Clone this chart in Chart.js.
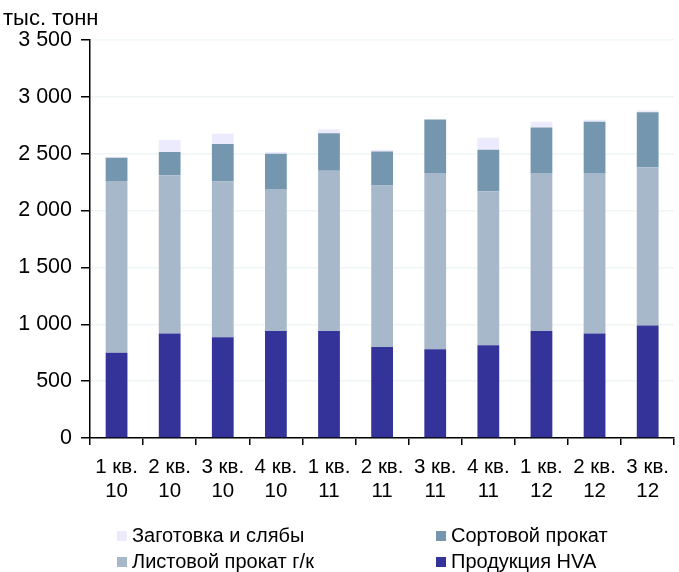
<!DOCTYPE html>
<html>
<head>
<meta charset="utf-8">
<script src="https://cdn.jsdelivr.net/npm/chart.js@4/dist/chart.umd.min.js"></script>
<style>
  html, body { margin: 0; padding: 0; background: #fff; }
  #wrap { position: relative; width: 679px; height: 572px; overflow: hidden; }
  #chart { position: absolute; left: 0; top: 0; }
  .legend { position: absolute; font-family: "Liberation Sans", Arial, sans-serif; font-size: 20px; color: #000; white-space: nowrap; line-height: 22px; }
  .legend .box { display: inline-block; width: 10px; height: 10px; margin-right: 5px; vertical-align: 1px; }
</style>
</head>
<body>
<div id="wrap">
  <canvas id="chart" width="679" height="572"></canvas>
</div>
<script>
// Quarters (two-line labels)
const quarters = [
  ['1 кв.', '10'], ['2 кв.', '10'], ['3 кв.', '10'], ['4 кв.', '10'],
  ['1 кв.', '11'], ['2 кв.', '11'], ['3 кв.', '11'], ['4 кв.', '11'],
  ['1 кв.', '12'], ['2 кв.', '12'], ['3 кв.', '12']
];

// Shipments by product group, thousand tonnes
const hva      = [750, 920, 885, 940, 940, 800, 780, 815, 940, 920, 990];
const sheet    = [1510, 1390, 1370, 1250, 1410, 1420, 1550, 1355, 1390, 1410, 1390];
const longProd = [205, 205, 330, 310, 330, 300, 470, 365, 400, 450, 485];
const billets  = [8, 105, 90, 15, 35, 15, 0, 105, 50, 18, 15];

const yTicks = [0, 500, 1000, 1500, 2000, 2500, 3000, 3500];
const unitLabel = 'тыс. тонн';

const FONT = '"Liberation Sans", Arial, sans-serif';

const datasets = [
  { label: 'Продукция HVA',        data: hva,      backgroundColor: '#333399' },
  { label: 'Листовой прокат г/к',  data: sheet,    backgroundColor: '#A6B8CA' },
  { label: 'Сортовой прокат',      data: longProd, backgroundColor: '#7496AF' },
  { label: 'Заготовка и слябы',    data: billets,  backgroundColor: '#EBEBFD' }
];
datasets.forEach(d => {
  d.barPercentage = 0.41;
  d.categoryPercentage = 1.0;
  d.borderWidth = 0;
});

const fmt = v => String(v).replace(/\B(?=(\d{3})+(?!\d))/g, ' ');

const unitTitle = {
  id: 'unitTitle',
  afterDraw(chart) {
    const c = chart.ctx;
    c.save();
    c.font = '22px ' + FONT;
    c.fillStyle = '#000';
    c.textAlign = 'left';
    c.textBaseline = 'alphabetic';
    c.fillText(unitLabel, 3, 25);
    c.restore();
  }
};

new Chart(document.getElementById('chart'), {
  type: 'bar',
  data: { labels: quarters, datasets },
  options: {
    responsive: false,
    animation: false,
    devicePixelRatio: 1,
    layout: { padding: { top: 40, right: 0, left: 0, bottom: 0 } },
    plugins: {
      legend: { display: false },
      tooltip: { enabled: false },
      title: { display: false }
    },
    scales: {
      x: {
        stacked: true,
        border: { color: '#000', width: 1.5 },
        grid: {
          offset: true,
          drawOnChartArea: false,
          drawTicks: true,
          tickLength: 7,
          color: '#000',
          tickColor: '#000',
          lineWidth: 1.5
        },
        ticks: {
          color: '#000',
          font: { family: FONT, size: 20.5, lineHeight: 1.17 },
          padding: 10,
          maxRotation: 0,
          autoSkip: false
        },
        afterFit(scale) { scale.height = 134; }
      },
      y: {
        stacked: true,
        min: 0,
        max: 3500,
        afterBuildTicks(scale) { scale.ticks = yTicks.map(v => ({ value: v })); },
        border: { color: '#000', width: 1.5 },
        grid: {
          color: '#F0F5F5',
          tickColor: '#000',
          tickLength: 9,
          lineWidth: 1.5
        },
        ticks: {
          color: '#000',
          font: { family: FONT, size: 21.5 },
          padding: 9,
          callback: v => fmt(v)
        },
        afterFit(scale) { scale.width = 90; }
      }
    }
  },
  plugins: [unitTitle]
});

// Two-column legend below the plot
const legendOrder = ['Заготовка и слябы', 'Сортовой прокат', 'Листовой прокат г/к', 'Продукция HVA'];
const legendCols = [117, 436];
const legendRows = [524, 550];
const wrap = document.getElementById('wrap');
legendOrder.forEach((name, i) => {
  const ds = datasets.find(d => d.label === name);
  const el = document.createElement('div');
  el.className = 'legend';
  el.style.left = legendCols[i % 2] + 'px';
  el.style.top = legendRows[Math.floor(i / 2)] + 'px';
  const box = document.createElement('span');
  box.className = 'box';
  box.style.background = ds.backgroundColor;
  el.appendChild(box);
  el.appendChild(document.createTextNode(ds.label));
  wrap.appendChild(el);
});
</script>
</body>
</html>
